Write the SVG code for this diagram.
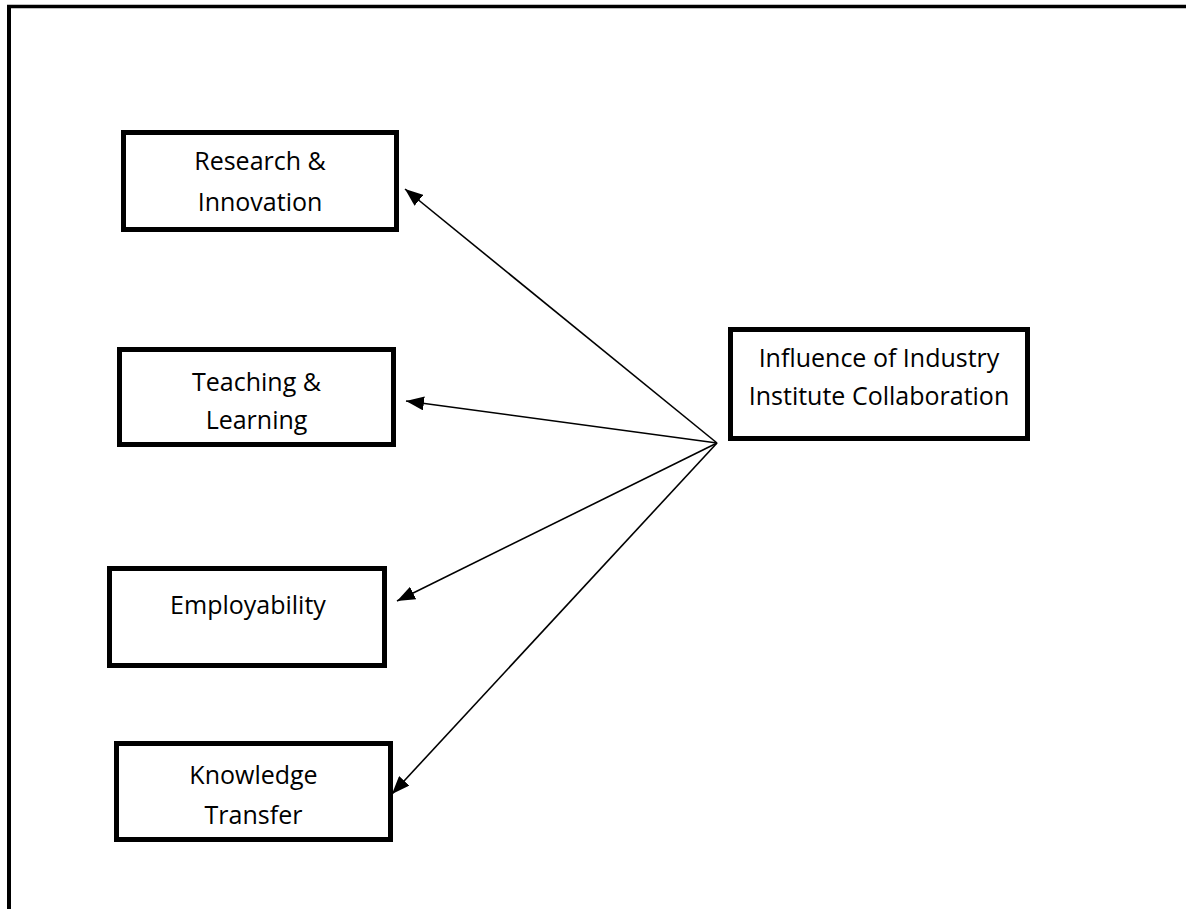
<svg xmlns="http://www.w3.org/2000/svg" width="1186" height="909" viewBox="0 0 1186 909">
  <style>
    .box { fill: #ffffff; stroke: #000000; stroke-width: 5; }
    .label { font-family: "Open Sans", "Liberation Sans", sans-serif; font-size: 25px; fill: #000000; text-anchor: middle; }
    .edge { stroke: #000000; stroke-width: 1.6; fill: none; marker-end: url(#arrow); }
  </style>
  <defs>
    <marker id="arrow" viewBox="0 0 18 14" refX="18" refY="7" markerWidth="18" markerHeight="14" markerUnits="userSpaceOnUse" orient="auto">
      <path d="M0,0 L18,7 L0,14 z" fill="#000000"/>
    </marker>
  </defs>
  <rect x="0" y="0" width="1186" height="909" fill="#ffffff"/>

  <!-- page frame -->
  <g id="frame">
    <line x1="9" y1="5" x2="9" y2="909" stroke="#000000" stroke-width="4"/>
    <line x1="7" y1="6.5" x2="1186" y2="6.5" stroke="#000000" stroke-width="3.5"/>
  </g>

  <!-- connectors -->
  <g id="connectors">
    <line class="edge" x1="717" y1="443" x2="405" y2="189"/>
    <line class="edge" x1="717" y1="443" x2="406" y2="401"/>
    <line class="edge" x1="717" y1="443" x2="397" y2="601"/>
    <line class="edge" x1="717" y1="443" x2="392" y2="794"/>
  </g>

  <g id="research">
    <rect class="box" x="123.5" y="132.5" width="273" height="97"/>
    <text class="label" x="260" y="170">Research &amp;</text>
    <text class="label" x="260" y="211">Innovation</text>
  </g>

  <g id="teaching">
    <rect class="box" x="119.5" y="349.5" width="274" height="95"/>
    <text class="label" x="256.5" y="391">Teaching &amp;</text>
    <text class="label" x="256.5" y="429">Learning</text>
  </g>

  <g id="employability">
    <rect class="box" x="109.5" y="568.5" width="275" height="97"/>
    <text class="label" x="248" y="614">Employability</text>
  </g>

  <g id="knowledge">
    <rect class="box" x="116.5" y="743.5" width="274" height="96"/>
    <text class="label" x="253.5" y="784">Knowledge</text>
    <text class="label" x="253.5" y="824">Transfer</text>
  </g>

  <g id="collaboration">
    <rect class="box" x="730.5" y="329.5" width="297" height="109"/>
    <text class="label" x="879" y="367">Influence of Industry</text>
    <text class="label" x="879" y="405">Institute Collaboration</text>
  </g>
</svg>
